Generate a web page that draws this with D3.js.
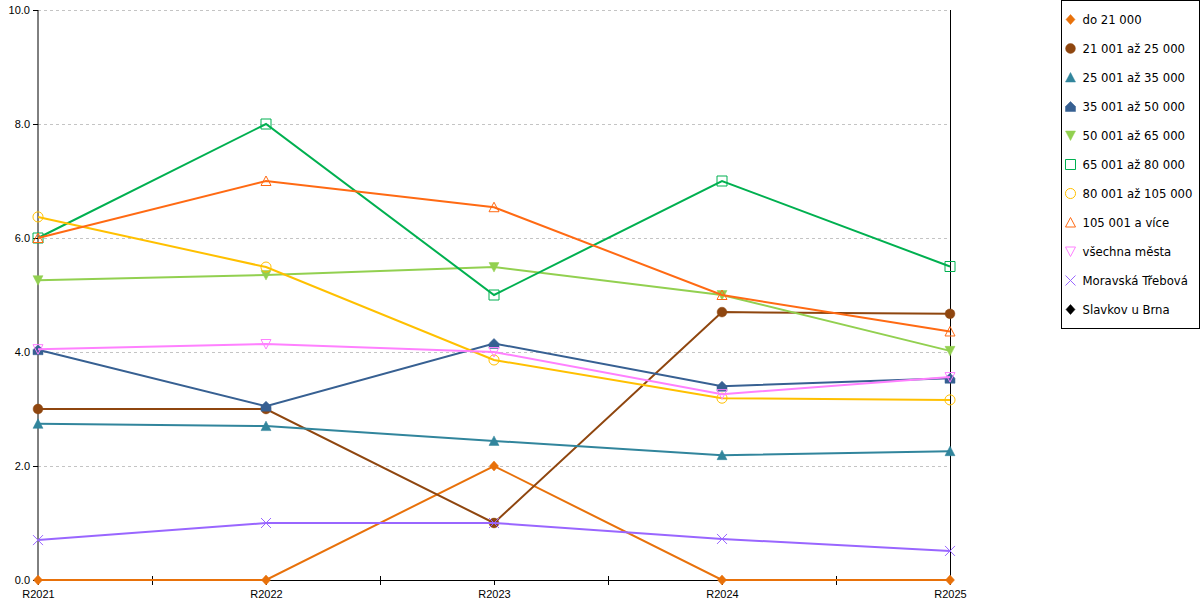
<!DOCTYPE html>
<html>
<head>
<meta charset="utf-8">
<script src="https://cdn.jsdelivr.net/npm/d3@7"></script>
<style>
  body { margin: 0; background: #fff; }
  svg { font-family: "DejaVu Sans", Verdana, sans-serif; }
</style>
</head>
<body>
<script>
// categories (years) and y ticks
const years = ['R2021', 'R2022', 'R2023', 'R2024', 'R2025'];
const yTicks = [0, 2, 4, 6, 8, 10];

// series values
const do21000 = [0, 0, 2.0, 0, 0];
const s21to25 = [3.0, 3.0, 1.0, 4.70, 4.67];
const s25to35 = [2.74, 2.70, 2.44, 2.19, 2.26];
const s35to50 = [4.04, 3.05, 4.15, 3.40, 3.54];
const s50to65 = [5.26, 5.35, 5.49, 5.0, 4.02];
const s65to80 = [6.0, 8.0, 5.0, 7.0, 5.5];
const s80to105 = [6.37, 5.49, 3.86, 3.19, 3.16];
const s105plus = [6.0, 7.0, 6.54, 5.0, 4.36];
const allCities = [4.05, 4.14, 4.0, 3.26, 3.56];
const moravskaTrebova = [0.70, 1.0, 1.0, 0.72, 0.51];
const slavkov = [null, null, null, null, null];

const seriesNames = ['do 21 000', '21 001 až 25 000', '25 001 až 35 000', '35 001 až 50 000',
  '50 001 až 65 000', '65 001 až 80 000', '80 001 až 105 000', '105 001 a více',
  'všechna města', 'Moravská Třebová', 'Slavkov u Brna'];
const seriesValues = [do21000, s21to25, s25to35, s35to50, s50to65, s65to80,
  s80to105, s105plus, allCities, moravskaTrebova, slavkov];
const seriesColors = ['#e8710a', '#8f460f', '#31859c', '#376092', '#92d050', '#00b050',
  '#ffc000', '#ff6a13', '#ff80ff', '#9966ff', '#000000'];
const seriesMarkers = ['diamond', 'circle', 'triangle', 'house', 'triDown', 'squareOpen',
  'circleOpen', 'triangleOpen', 'triDownOpen', 'cross', 'diamond'];

const width = 1200, height = 600;
const plot = { left: 38, right: 950, top: 10, bottom: 580 };

const svg = d3.select('body').append('svg')
  .attr('width', width)
  .attr('height', height);

const x = d3.scalePoint().domain(years).range([plot.left, plot.right]);
const y = d3.scaleLinear().domain([0, 10]).range([plot.bottom, plot.top]);

// grid lines
svg.append('g')
  .selectAll('line')
  .data(yTicks.filter(d => d > 0))
  .enter().append('line')
  .attr('x1', plot.left).attr('x2', plot.right)
  .attr('y1', d => y(d) + 0.5).attr('y2', d => y(d) + 0.5)
  .style('stroke', '#c4c4c4')
  .style('stroke-dasharray', '3,3')
  .style('shape-rendering', 'crispEdges');

// y axis
const yAxis = svg.append('g')
  .attr('transform', `translate(${plot.left},0)`)
  .call(d3.axisLeft(y).tickValues(yTicks).tickFormat(d3.format('.1f')).tickSizeOuter(0).tickSize(5));
yAxis.selectAll('text').style('font-size', '11px').style('fill', '#000');
yAxis.select('.domain').attr('d', `M0,${plot.top}V${plot.bottom}`);

// x axis
const xAxis = svg.append('g')
  .attr('transform', `translate(0,${plot.bottom})`)
  .call(d3.axisBottom(x).tickSize(5).tickSizeOuter(0).tickPadding(5));
xAxis.selectAll('text').style('font-size', '11px').style('fill', '#000');

// minor ticks between categories
const step = x.step();
xAxis.selectAll('.minor')
  .data(years.slice(0, -1))
  .enter().append('line')
  .attr('class', 'minor')
  .attr('x1', d => Math.round(x(d) + step / 2) + 0.5)
  .attr('x2', d => Math.round(x(d) + step / 2) + 0.5)
  .attr('y1', -4).attr('y2', 5)
  .style('stroke', '#000');

// right border line
svg.append('line')
  .attr('x1', plot.right + 0.5).attr('x2', plot.right + 0.5)
  .attr('y1', plot.top).attr('y2', plot.bottom)
  .style('stroke', '#000');

// marker shapes
function markerPath(type) {
  switch (type) {
    case 'diamond': return 'M0,-5L4.5,0L0,5L-4.5,0Z';
    case 'circle': return d3.symbol(d3.symbolCircle, 75)();
    case 'triangle':
    case 'triangleOpen': return 'M0,-5L5,4.5L-5,4.5Z';
    case 'triDown':
    case 'triDownOpen': return 'M-5,-4.5L5,-4.5L0,5Z';
    case 'house': return 'M-5,5L-5,0L0,-5L5,0L5,5Z';
    case 'squareOpen': return 'M-5,-5H5V5H-5Z';
    case 'circleOpen': return d3.symbol(d3.symbolCircle, 80)();
    case 'cross': return 'M-5,-5L5,5M5,-5L-5,5';
  }
}
function isOpen(type) {
  return type.endsWith('Open') || type === 'cross';
}
function drawMarker(g, type, color) {
  g.append('path')
    .attr('d', markerPath(type))
    .style('fill', isOpen(type) ? 'none' : color)
    .style('stroke', color)
    .style('stroke-width', isOpen(type) ? 1 : 0.5);
}

const line = d3.line()
  .defined(d => d != null)
  .x((d, i) => x(years[i]))
  .y(d => y(d));

seriesValues.forEach((vals, si) => {
  const color = seriesColors[si];
  svg.append('path')
    .datum(vals)
    .attr('d', line)
    .style('fill', 'none')
    .style('stroke', color)
    .style('stroke-width', 2);

  vals.forEach((v, i) => {
    if (v == null) return;
    const g = svg.append('g').attr('transform', `translate(${x(years[i])},${y(v)})`);
    drawMarker(g, seriesMarkers[si], color);
  });
});

// legend
const legend = svg.append('g').attr('transform', 'translate(1061.5,0.5)');
legend.append('rect')
  .attr('width', 138).attr('height', 328)
  .style('fill', '#fff')
  .style('stroke', '#000');

seriesNames.forEach((name, i) => {
  const item = legend.append('g').attr('transform', `translate(9,${19 + i * 29})`);
  drawMarker(item, seriesMarkers[i], seriesColors[i]);
  item.append('text')
    .attr('x', 12)
    .attr('dy', '0.35em')
    .style('font-size', '11.7px')
    .text(name);
});
</script>
</body>
</html>
